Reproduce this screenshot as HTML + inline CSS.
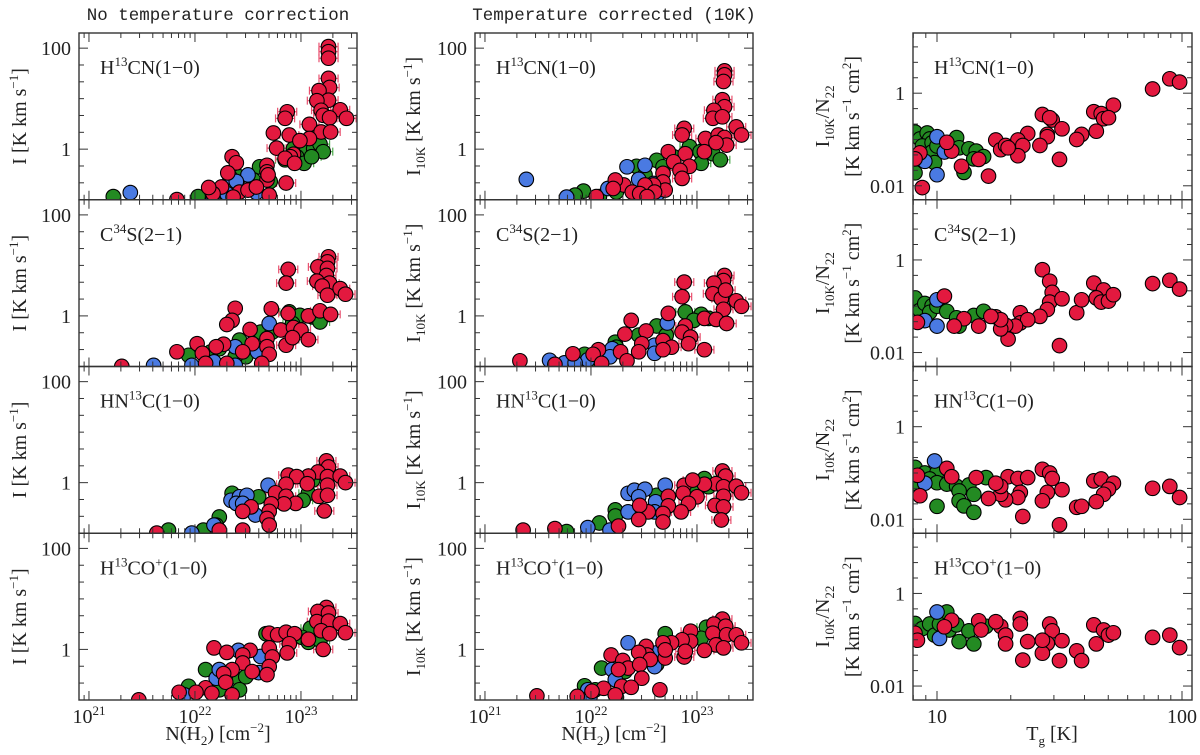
<!DOCTYPE html>
<html><head><meta charset="utf-8"><style>
html,body{margin:0;padding:0;background:#fff;}
svg{display:block;font-family:"Liberation Serif",serif;}
</style></head><body>
<svg id="fig" width="1200" height="755" viewBox="0 0 1200 755" xmlns="http://www.w3.org/2000/svg"></svg>
<script>
// Data: [log10 x, log10 y]
const p1Red=[[23.26,2.03],[23.26,1.93],[23.26,1.80],[23.26,1.40],[23.27,1.22],[23.17,1.16],[23.26,0.97],[23.15,0.96],[23.19,0.77],[23.21,0.67],[23.37,0.78],[23.43,0.61],[22.87,0.74],[22.85,0.61],[23.27,0.62],[23.08,0.49],[22.74,0.32],[22.89,0.28],[23.19,0.34],[23.28,0.34],[23.08,0.21],[22.77,0.02],[22.99,0.17],[22.93,-0.10],[22.90,-0.15],[22.85,-0.18],[22.94,-0.28],[22.35,-0.15],[22.39,-0.27],[22.31,-0.47],[22.68,-0.32],[22.68,-0.45],[22.68,-0.61],[22.86,-0.67],[22.25,-0.75],[22.17,-0.88],[22.42,-0.85],[22.50,-0.81],[22.58,-0.75],[22.69,-0.51],[22.70,-0.91],[22.13,-0.76],[22.36,-0.95],[21.83,-1.0]];
const p1Green=[[22.99,0.06],[22.93,0.01],[23.05,-0.05],[23.12,0.01],[23.18,0.10],[23.21,-0.05],[22.96,-0.15],[23.03,-0.28],[22.85,-0.21],[23.10,-0.15],[22.61,-0.35],[22.42,-0.55],[22.55,-0.61],[22.33,-0.64],[22.71,-0.64],[22.24,-0.88],[21.23,-0.94],[22.03,-0.94]];
const p1Blue=[[21.39,-0.86],[22.33,-0.55],[22.50,-0.51],[22.39,-0.64],[22.58,-0.86],[22.30,-0.88],[22.17,-0.94]];

const p2Red=[[23.26,1.17],[23.25,1.07],[23.16,0.97],[23.25,0.94],[23.24,0.80],[22.88,0.92],[22.86,0.65],[23.15,0.69],[23.27,0.65],[23.20,0.59],[23.25,0.41],[23.37,0.54],[23.42,0.43],[22.38,0.15],[22.35,-0.09],[22.30,-0.17],[22.72,0.14],[22.88,0.05],[23.07,0.00],[23.18,0.10],[23.28,0.03],[22.52,-0.27],[22.81,-0.28],[22.93,-0.23],[23.00,-0.28],[23.07,-0.47],[22.86,-0.58],[22.92,-0.43],[22.68,-0.45],[22.68,-0.61],[22.70,-0.76],[22.54,-0.55],[22.45,-0.71],[22.27,-0.56],[22.20,-0.61],[22.02,-0.55],[21.83,-0.71],[22.07,-0.74],[22.30,-0.94],[22.10,-0.94],[22.63,-0.94],[21.31,-1.0]];
const p2Green=[[22.89,0.08],[22.99,0.01],[23.11,-0.02],[23.18,-0.12],[22.92,-0.15],[22.62,-0.32],[22.73,-0.32],[22.42,-0.48],[22.23,-0.65],[22.15,-0.71],[22.48,-0.81],[21.94,-0.78],[22.38,-0.81]];
const p2Blue=[[22.70,-0.15],[22.59,-0.71],[22.38,-0.61],[22.18,-0.91],[21.61,-0.98],[21.97,-0.98],[22.38,-0.98]];

const p3Red=[[23.24,0.43],[23.26,0.31],[23.16,0.21],[23.07,0.13],[22.88,0.15],[22.96,0.12],[23.25,0.12],[23.37,0.13],[23.42,0.00],[22.86,-0.03],[23.06,-0.02],[23.25,-0.05],[22.76,-0.20],[22.86,-0.27],[22.95,-0.41],[22.84,-0.42],[23.17,-0.27],[23.25,-0.25],[23.22,-0.56],[22.72,-0.42],[22.70,-0.57],[22.68,-0.71],[22.53,-0.48],[22.45,-0.57],[22.70,-0.84],[22.45,-0.94],[22.23,-0.94],[21.64,-1.0]];
const p3Green=[[23.11,0.05],[23.07,-0.21],[23.02,-0.35],[22.35,-0.21],[22.60,-0.28],[22.23,-0.68],[22.20,-0.84],[22.08,-0.94],[21.75,-0.94]];
const p3Blue=[[22.69,-0.05],[22.34,-0.35],[22.42,-0.28],[22.49,-0.25],[22.39,-0.41],[22.45,-0.41],[22.57,-0.64],[22.18,-0.84],[21.97,-1.0]];

const p4Red=[[23.24,0.83],[23.16,0.75],[23.26,0.72],[23.15,0.55],[23.26,0.56],[23.37,0.51],[23.42,0.33],[23.19,0.37],[23.27,0.31],[22.70,0.32],[22.78,0.29],[22.86,0.34],[22.94,0.31],[23.07,0.20],[22.89,0.11],[23.21,0.00],[22.18,0.03],[22.30,-0.06],[22.52,-0.02],[22.70,0.03],[22.87,-0.07],[22.45,-0.11],[22.73,-0.15],[22.45,-0.27],[22.70,-0.34],[22.35,-0.40],[22.54,-0.44],[22.68,-0.50],[22.27,-0.48],[22.29,-0.65],[22.10,-0.76],[22.01,-0.85],[21.85,-0.85],[22.16,-0.87],[22.35,-0.90],[21.47,-1.0]];
const p4Green=[[23.09,0.42],[23.01,0.24],[23.07,0.14],[23.18,0.18],[22.67,0.31],[22.10,-0.40],[21.94,-0.73],[22.42,-0.60],[22.48,-0.54],[22.23,-0.80],[22.42,-0.80]];
const p4Blue=[[22.41,-0.02],[22.62,-0.14],[22.60,-0.46],[22.20,-0.57],[22.23,-0.40],[21.90,-0.90]];

const p5Red=[[23.26,1.55],[23.26,1.47],[23.25,1.34],[23.24,0.98],[23.26,0.84],[23.16,0.77],[23.15,0.61],[23.24,0.64],[23.37,0.44],[23.42,0.28],[22.88,0.41],[22.86,0.28],[23.08,0.21],[23.20,0.28],[23.26,0.23],[23.28,0.08],[23.18,0.13],[22.73,-0.05],[22.89,-0.09],[23.07,-0.05],[22.78,-0.25],[22.93,-0.34],[22.84,-0.42],[22.86,-0.58],[22.68,-0.48],[22.68,-0.65],[22.70,-0.81],[22.59,-0.71],[22.51,-0.71],[22.31,-0.71],[22.39,-0.85],[22.46,-0.88],[22.23,-0.61],[22.21,-0.78],[22.05,-0.94],[22.60,-0.85],[22.53,-0.94]];
const p5Green=[[22.93,0.05],[23.03,-0.05],[23.11,0.01],[23.15,-0.09],[23.22,-0.21],[23.04,-0.28],[22.78,-0.15],[22.62,-0.22],[22.68,-0.35],[22.43,-0.34],[22.51,-0.51],[22.24,-0.85],[21.93,-0.83],[21.85,-0.91],[22.08,-0.94]];
const p5Blue=[[21.39,-0.60],[22.34,-0.35],[22.51,-0.32],[22.45,-0.60],[22.16,-0.78],[22.59,-0.68],[22.63,-0.88],[21.77,-0.95]];

const p6Red=[[23.26,0.80],[23.25,0.70],[23.16,0.65],[22.88,0.67],[22.86,0.38],[23.15,0.44],[23.23,0.34],[23.27,0.51],[23.37,0.30],[23.42,0.19],[23.25,0.13],[22.38,-0.09],[22.73,0.05],[22.89,-0.20],[23.07,-0.05],[23.18,-0.07],[23.28,-0.15],[22.52,-0.30],[22.32,-0.36],[22.86,-0.32],[22.94,-0.42],[22.92,-0.55],[23.07,-0.67],[22.48,-0.55],[22.68,-0.49],[22.76,-0.62],[22.68,-0.67],[22.28,-0.71],[22.45,-0.71],[22.07,-0.67],[22.02,-0.76],[21.83,-0.75],[22.10,-0.94],[22.34,-0.89],[21.33,-0.89],[21.66,-0.96]];
const p6Green=[[22.89,0.08],[23.04,0.03],[22.97,-0.09],[23.11,-0.05],[22.87,-0.30],[22.62,-0.20],[22.71,-0.38],[22.45,-0.38],[22.23,-0.52],[22.24,-0.62],[21.94,-0.76],[22.07,-0.87],[21.99,-0.96]];
const p6Blue=[[22.72,-0.14],[22.60,-0.58],[22.60,-0.74],[22.20,-0.65],[22.18,-0.81],[21.97,-0.87],[21.61,-0.88],[21.75,-0.93],[21.85,-0.93]];

const p7Red=[[23.24,0.23],[23.27,0.13],[23.18,-0.02],[23.07,-0.03],[22.88,-0.05],[22.96,0.05],[23.25,-0.08],[23.37,-0.07],[23.42,-0.20],[22.87,-0.21],[23.00,-0.28],[23.25,-0.27],[22.73,-0.27],[22.92,-0.41],[22.85,-0.58],[23.17,-0.45],[23.25,-0.48],[23.23,-0.74],[22.73,-0.46],[22.68,-0.61],[22.54,-0.58],[22.46,-0.45],[22.68,-0.78],[22.45,-0.73],[22.26,-0.86],[21.66,-0.91],[21.36,-0.94]];
const p7Green=[[23.07,0.08],[23.11,-0.08],[23.00,-0.15],[22.62,-0.25],[22.23,-0.54],[22.23,-0.66],[22.08,-0.80],[21.77,-0.97]];
const p7Blue=[[22.70,-0.05],[22.35,-0.21],[22.41,-0.15],[22.51,-0.13],[22.45,-0.28],[22.61,-0.38],[22.60,-0.58],[22.35,-0.58],[21.97,-0.89],[22.18,-0.94]];

const p8Red=[[23.24,0.60],[23.16,0.50],[23.27,0.46],[23.15,0.32],[23.28,0.29],[23.37,0.29],[23.42,0.13],[23.18,0.09],[23.25,0.03],[23.07,-0.02],[22.94,0.36],[22.94,0.16],[22.86,0.19],[22.76,0.13],[22.68,0.13],[22.88,-0.15],[22.89,-0.04],[22.52,0.06],[22.53,-0.11],[22.45,-0.06],[22.70,-0.17],[22.70,-0.01],[22.56,-0.20],[22.19,-0.11],[22.30,-0.22],[22.35,-0.37],[22.26,-0.40],[22.46,-0.30],[22.48,-0.57],[22.29,-0.73],[22.38,-0.75],[22.12,-0.77],[22.65,-0.80],[22.01,-0.83],[22.23,-0.90],[21.87,-0.93],[21.49,-0.92]];
const p8Green=[[22.70,0.31],[23.09,0.44],[23.04,0.22],[22.62,-0.30],[22.10,-0.37],[22.23,-0.47],[22.32,-0.44],[21.94,-0.72],[22.04,-0.80],[22.24,-0.95]];
const p8Blue=[[22.35,0.13],[22.62,-0.07],[22.60,-0.34],[22.20,-0.40],[22.23,-0.60],[21.97,-0.80],[21.99,-0.95]];

const p9Red=[[1.95,0.31],[1.99,0.24],[1.88,0.09],[1.72,-0.26],[1.64,-0.40],[1.67,-0.44],[1.68,-0.55],[1.70,-0.53],[1.43,-0.46],[1.47,-0.58],[1.46,-0.53],[1.51,-0.77],[1.65,-0.82],[1.59,-0.89],[1.57,-1.00],[1.45,-0.89],[1.45,-0.94],[1.37,-0.87],[1.42,-1.13],[1.50,-1.43],[1.33,-1.01],[1.35,-1.13],[1.33,-1.35],[1.24,-1.01],[1.26,-1.22],[1.28,-1.13],[1.29,-1.18],[1.21,-1.79],[1.10,-1.58],[1.17,-1.43],[1.06,-1.25],[1.04,-1.06],[0.93,-1.29],[0.91,-1.42],[0.94,-2.04]];
const p9Green=[[0.91,-0.84],[0.93,-0.99],[0.96,-0.86],[0.97,-0.99],[0.94,-1.14],[0.98,-1.07],[0.98,-1.27],[1.01,-1.06],[1.00,-1.14],[1.05,-1.11],[1.08,-0.96],[1.09,-1.18],[1.13,-1.20],[1.16,-1.25],[1.15,-1.42],[1.19,-1.37],[1.11,-1.71],[0.91,-1.72],[0.99,-1.50]];
const p9Blue=[[1.00,-0.94],[1.03,-1.27],[0.95,-1.47],[1.00,-1.76]];

const p10Red=[[1.43,-0.21],[1.46,-0.46],[1.47,-0.70],[1.46,-0.91],[1.45,-1.07],[1.42,-1.22],[1.51,-0.84],[1.50,-1.85],[1.57,-1.14],[1.59,-0.86],[1.64,-0.50],[1.68,-0.65],[1.65,-0.82],[1.67,-0.91],[1.70,-0.89],[1.72,-0.75],[1.88,-0.51],[1.95,-0.44],[1.99,-0.63],[1.34,-1.14],[1.34,-1.36],[1.37,-1.29],[1.32,-1.43],[1.28,-1.41],[1.29,-1.71],[1.26,-1.49],[1.24,-1.23],[1.26,-1.29],[1.22,-1.22],[1.17,-1.43],[1.11,-1.27],[1.07,-1.43],[1.03,-0.78],[0.92,-1.35]];
const p10Green=[[0.91,-0.82],[0.93,-1.09],[0.95,-0.94],[0.98,-0.99],[0.97,-1.13],[1.00,-1.00],[1.04,-1.11],[1.08,-1.25],[1.09,-1.43],[1.15,-1.20],[1.19,-1.11]];
const p10Blue=[[1.00,-0.86],[0.95,-1.31],[1.00,-1.43]];

const p11Red=[[1.43,-0.92],[1.46,-1.00],[1.47,-1.12],[1.51,-1.36],[1.45,-1.42],[1.43,-1.60],[1.50,-2.12],[1.57,-1.74],[1.59,-1.72],[1.64,-1.17],[1.67,-1.13],[1.72,-1.22],[1.70,-1.35],[1.68,-1.46],[1.65,-1.62],[1.88,-1.33],[1.95,-1.29],[1.99,-1.53],[1.29,-1.08],[1.33,-1.12],[1.37,-1.10],[1.34,-1.42],[1.33,-1.53],[1.35,-1.94],[1.28,-1.58],[1.26,-1.46],[1.26,-1.29],[1.24,-1.22],[1.21,-1.55],[1.16,-1.10],[1.04,-0.90],[1.06,-1.08],[0.92,-1.05],[0.93,-1.49]];
const p11Green=[[0.91,-0.88],[0.95,-1.00],[1.00,-0.99],[0.97,-1.13],[0.92,-1.24],[1.00,-1.21],[1.04,-1.24],[1.08,-1.29],[1.13,-1.26],[1.09,-1.39],[1.15,-1.46],[1.09,-1.60],[1.11,-1.71],[1.15,-1.85],[1.20,-1.10],[1.00,-1.72]];
const p11Blue=[[0.99,-0.74],[0.95,-1.22]];

const p12Red=[[1.88,-0.95],[1.95,-0.90],[1.99,-1.17],[1.64,-0.68],[1.68,-0.79],[1.70,-0.90],[1.72,-0.85],[1.65,-1.09],[1.57,-1.24],[1.59,-1.45],[1.50,-1.45],[1.46,-0.66],[1.47,-0.81],[1.45,-1.08],[1.51,-1.02],[1.43,-1.29],[1.43,-1.01],[1.34,-0.54],[1.34,-0.66],[1.37,-1.04],[1.35,-1.44],[1.26,-0.71],[1.28,-0.90],[1.28,-1.09],[1.24,-0.61],[1.17,-0.59],[1.18,-0.79],[1.06,-0.58],[1.03,-0.72],[0.91,-0.86],[0.92,-1.01]];
const p12Green=[[0.91,-0.65],[0.94,-0.76],[0.97,-0.66],[0.99,-0.90],[1.01,-0.66],[1.04,-0.40],[1.05,-0.79],[1.08,-0.68],[1.13,-0.81],[1.09,-1.04],[1.15,-1.09],[1.20,-0.71]];
const p12Blue=[[1.00,-0.40],[1.01,-0.97]];

const nTickLabels=["10","10","10"], nTickExps=["21","22","23"];
const iTickLabels=["100","1"];
const rTickLabels=["1","0.01"];
const tTickLabels=["10","100"];

const svg=document.getElementById('fig');
const NS='http://www.w3.org/2000/svg';
function mk(tag,attrs,parent){const e=document.createElementNS(NS,tag);for(const k in attrs)e.setAttribute(k,attrs[k]);(parent||svg).appendChild(e);return e;}

const COLS=[{x0:79,w:278,kind:'N'},{x0:475,w:278,kind:'N'},{x0:913,w:279,kind:'T'}];
const TOP=33, PH=166.75;
const NMIN=20.906, NPX=106, TMIN=0.902, TPX=245;
const IMAX=2.3, IPX=50.5, RMAX=1.3, RPX=46.3;
const COLORS={red:'#e3193f',green:'#238a22',blue:'#4a7ae2'};
const ERRC={red:'#e8506e',green:'#4caa4c',blue:'#6f95ea'};
const molecules=[['H','13','CN(1−0)'],['C','34','S(2−1)'],['HN','13','C(1−0)'],['H','13','CO','+','(1−0)']];
const panels=[[p1Green,p1Blue,p1Red],[p2Green,p2Blue,p2Red],[p3Green,p3Blue,p3Red],[p4Green,p4Blue,p4Red],
[p5Green,p5Blue,p5Red],[p6Green,p6Blue,p6Red],[p7Green,p7Blue,p7Red],[p8Green,p8Blue,p8Red],
[p9Green,p9Blue,p9Red],[p10Green,p10Blue,p10Red],[p11Green,p11Blue,p11Red],[p12Green,p12Blue,p12Red]];
const colorNames=['green','blue','red'];
const FS=20, FSS=13;

function xScale(c,v){return c.kind==='N'?c.x0+(v-NMIN)*NPX:c.x0+(v-TMIN)*TPX;}
function yScale(c,top,v){return c.kind==='N'?top+(IMAX-v)*IPX:top+(RMAX-v)*RPX;}

const defs=mk('defs',{});
COLS.forEach((c,ci)=>{
  for(let r=0;r<4;r++){
    const top=TOP+r*PH;
    const g=mk('g',{});
    
    
    const cp=mk('clipPath',{id:'cp'+ci+r},defs);
    mk('rect',{x:c.x0,y:top,width:c.w,height:PH},cp);
    const pg=mk('g',{'clip-path':'url(#cp'+ci+r+')'},g);
    const sets=panels[ci*4+r];
    // error bars
    sets.forEach((pts,si)=>{
      if(si===1)return;
      pts.forEach(p=>{
        const cx=xScale(c,p[0]), cy=yScale(c,top,p[1]);
        if(c.kind==='N'&&p[0]>22.75){
          const h=0.09*NPX;
          mk('line',{x1:cx-h,y1:cy,x2:cx+h,y2:cy,stroke:ERRC[colorNames[si]],'stroke-width':1.2},pg);
          mk('line',{x1:cx-h,y1:cy-4,x2:cx-h,y2:cy+4,stroke:ERRC[colorNames[si]],'stroke-width':1.2},pg);
          mk('line',{x1:cx+h,y1:cy-4,x2:cx+h,y2:cy+4,stroke:ERRC[colorNames[si]],'stroke-width':1.2},pg);
        }
      });
    });
    sets.forEach((pts,si)=>{
      pts.forEach(p=>{
        const cx=xScale(c,p[0]), cy=yScale(c,top,p[1]);
        const el=mk('circle',{cx:cx.toFixed(1),cy:cy.toFixed(1),r:7.3,fill:COLORS[colorNames[si]],stroke:'#000','stroke-width':1.1},pg);
        
        
      });
    });
    const fr=mk('rect',{x:c.x0,y:top,width:c.w,height:PH,fill:'none',stroke:'#333','stroke-width':1.4},g);
    
    
    const bot=top+PH;
    if(c.kind==='N'){
      for(let d=20;d<=23;d++)for(let m=1;m<=9;m++){
        const v=d+Math.log10(m); if(v<NMIN||v>23.53)continue;
        const x=xScale(c,v), L=m===1?9:5;
        mk('line',{x1:x,y1:bot,x2:x,y2:bot-L,stroke:'#333','stroke-width':1},g);
        mk('line',{x1:x,y1:top,x2:x,y2:top+L,stroke:'#333','stroke-width':1},g);
      }
    } else {
      for(let d=0;d<=2;d++)for(let m=1;m<=9;m++){
        const v=d+Math.log10(m); if(v<TMIN||v>2.04)continue;
        const x=xScale(c,v), L=m===1?9:5;
        mk('line',{x1:x,y1:bot,x2:x,y2:bot-L,stroke:'#333','stroke-width':1},g);
        mk('line',{x1:x,y1:top,x2:x,y2:top+L,stroke:'#333','stroke-width':1},g);
      }
    }
    const ymin=c.kind==='N'?-1:-2.3, ymax=c.kind==='N'?IMAX:RMAX;
    for(let k=-9;k<=9;k++){
      const v=k/3; if(v<ymin+0.01||v>ymax-0.01)continue;
      const y=yScale(c,top,v);
      const major=c.kind==='N'?(k===0||k===6):(k===0||k===-6);
      const L=major?9:5;
      mk('line',{x1:c.x0,y1:y,x2:c.x0+L,y2:y,stroke:'#333','stroke-width':1},g);
      mk('line',{x1:c.x0+c.w,y1:y,x2:c.x0+c.w-L,y2:y,stroke:'#333','stroke-width':1},g);
    }
    const labs=c.kind==='N'?iTickLabels:rTickLabels;
    const vals=c.kind==='N'?[2,0]:[0,-2];
    labs.forEach((t,i)=>{
      const tx=mk('text',{x:c.x0-8,y:yScale(c,top,vals[i])+7,'text-anchor':'end','font-size':FS,fill:'#222'},g);
      tx.textContent=t;
      
      
    });
    const m=molecules[r];
    const ml=mk('text',{x:c.x0+21,y:top+41,'font-size':FS,fill:'#222'},g);
    
    
    let t1=mk('tspan',{},ml);t1.textContent=m[0];
    let t2=mk('tspan',{dy:-8,'font-size':FSS},ml);t2.textContent=m[1];
    let t3=mk('tspan',{dy:8},ml);t3.textContent=m[2];
    if(m.length>3){let t4=mk('tspan',{dy:-8,'font-size':FSS},ml);t4.textContent=m[3];let t5=mk('tspan',{dy:8},ml);t5.textContent=m[4];}
    const cy=top+PH/2;
    if(c.kind==='N'){
      const lx=ci===0?26:420;
      const yl=mk('text',{x:0,y:0,transform:'translate('+lx+','+cy+') rotate(-90)','text-anchor':'middle','font-size':FS,fill:'#222'},g);
      
      
      let a=mk('tspan',{},yl);a.textContent='I';
      if(ci===1){let s=mk('tspan',{dy:5,'font-size':FSS},yl);s.textContent='10K';let s2=mk('tspan',{dy:-5},yl);s2.textContent=' [K km s';}
      else{let s2=mk('tspan',{},yl);s2.textContent=' [K km s';}
      let e=mk('tspan',{dy:-8,'font-size':FSS},yl);e.textContent='−1';
      let f=mk('tspan',{dy:8},yl);f.textContent=']';
    } else {
      const yl=mk('text',{x:0,y:0,transform:'translate(829,'+cy+') rotate(-90)','text-anchor':'middle','font-size':FS,fill:'#222'},g);
      
      
      let a=mk('tspan',{},yl);a.textContent='I';
      let b=mk('tspan',{dy:5,'font-size':FSS},yl);b.textContent='10K';
      let c2=mk('tspan',{dy:-5},yl);c2.textContent='/N';
      let d=mk('tspan',{dy:5,'font-size':FSS},yl);d.textContent='22';
      const yl2=mk('text',{x:0,y:0,transform:'translate(859,'+cy+') rotate(-90)','text-anchor':'middle','font-size':FS,fill:'#222'},g);
      
      
      let u1=mk('tspan',{},yl2);u1.textContent='[K km s';
      let u2=mk('tspan',{dy:-8,'font-size':FSS},yl2);u2.textContent='−1';
      let u3=mk('tspan',{dy:8},yl2);u3.textContent=' cm';
      let u4=mk('tspan',{dy:-8,'font-size':FSS},yl2);u4.textContent='2';
      let u5=mk('tspan',{dy:8},yl2);u5.textContent=']';
    }
  }
  const bot=TOP+4*PH;
  if(c.kind==='N'){
    nTickLabels.forEach((t,i)=>{
      const x=xScale(c,21+i);
      const tx=mk('text',{x:x,y:bot+23,'text-anchor':'middle','font-size':FS,fill:'#222'});
      
      
      let a=mk('tspan',{},tx);a.textContent=t;
      let b=mk('tspan',{dy:-8,'font-size':FSS},tx);b.textContent=nTickExps[i];
    });
    const at=mk('text',{x:c.x0+139,y:bot+40,'text-anchor':'middle','font-size':FS,fill:'#222','xml:space':'preserve'});
    
    
    let a=mk('tspan',{},at);a.textContent='N(H';
    let b=mk('tspan',{dy:5,'font-size':FSS},at);b.textContent='2';
    let d=mk('tspan',{dy:-5},at);d.textContent=')  [cm';
    let e=mk('tspan',{dy:-8,'font-size':FSS},at);e.textContent='−2';
    let f=mk('tspan',{dy:8},at);f.textContent=']';
  } else {
    tTickLabels.forEach((t,i)=>{
      const tx=mk('text',{x:xScale(c,1+i),y:bot+23,'text-anchor':'middle','font-size':FS,fill:'#222'});
      tx.textContent=t;
      
      
    });
    const at=mk('text',{x:1052,y:bot+40,'text-anchor':'middle','font-size':FS,fill:'#222','xml:space':'preserve'});
    
    
    let a=mk('tspan',{},at);a.textContent='T';
    let b=mk('tspan',{dy:5,'font-size':FSS},at);b.textContent='g';
    let d=mk('tspan',{dy:-5},at);d.textContent='  [K]';
  }
});
const t1=mk('text',{x:218,y:20,'text-anchor':'middle','font-size':17.5,fill:'#222','font-family':'Liberation Mono, monospace'});
t1.textContent='No temperature correction';


const t2=mk('text',{x:614,y:20,'text-anchor':'middle','font-size':17.5,fill:'#222','font-family':'Liberation Mono, monospace'});
t2.textContent='Temperature corrected (10K)';


</script>
</body></html>
